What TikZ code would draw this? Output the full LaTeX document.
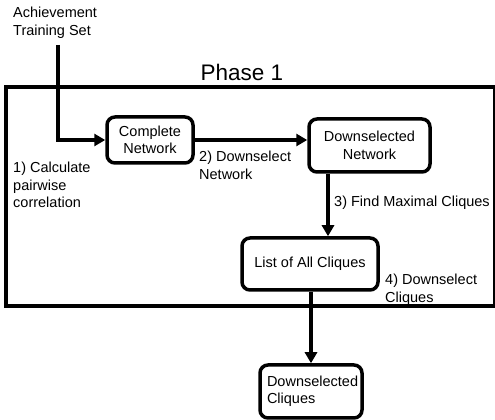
\documentclass[tikz,border=0pt]{standalone}
\usepackage{fontspec}
\setmainfont{Liberation Sans}
\usetikzlibrary{arrows.meta,calc}
\begin{document}
\begin{tikzpicture}[x=1pt,y=1pt,
  every node/.style={font=\fontsize{14.5}{17.5}\selectfont},
  procbox/.style={draw,line width=3.5pt,rounded corners=8pt,align=center,inner sep=0pt},
  lbl/.style={anchor=west,align=left,inner sep=0pt},
  flow/.style={line width=3.5pt,-{Triangle[length=11pt,width=12pt]}}]
\useasboundingbox (0,0) rectangle (495,420);
% frame
\draw[line width=3.5pt] (6,114) rectangle (495,333);
\node (ph) at (242,348) {\fontsize{22.5}{26}\selectfont Phase 1};
% nodes
\node[lbl] (ach) at (13,397) {Achievement\\Training Set};
\coordinate (src) at (58,375);
\node[procbox,minimum width=86pt,minimum height=46pt] (cn) at (150,280) {Complete\\Network};
\node[procbox,minimum width=121pt,minimum height=53pt] (dn) at (369.5,274.5) {Downselected\\Network};
\node[procbox,minimum width=136pt,minimum height=52pt] (las) at (310,156) {List of All Cliques};
\node[procbox,minimum width=102pt,minimum height=53pt,align=left,text width=88pt] (ds) at (311,28.5) {Downselected\\Cliques};
\coordinate (c3) at (328,0);
% labels
\node[lbl] (l1) at (13,235) {1) Calculate\\pairwise\\correlation};
\node[lbl] (l2) at (199,254.5) {2) Downselect\\Network};
\node[lbl] (l3) at (334,217) {3) Find Maximal Cliques};
\node[lbl] (l4) at (385,130) {4) Downselect\\Cliques};
% connectors
\draw[flow] (src) |- (cn.west);
\draw[flow] (cn.east) -- (cn.east -| dn.west);
\draw[flow] (dn.south -| c3) -- (las.north -| c3);
\draw[flow] (las.south -| ds.north) -- (ds.north);
\end{tikzpicture}
\end{document}
